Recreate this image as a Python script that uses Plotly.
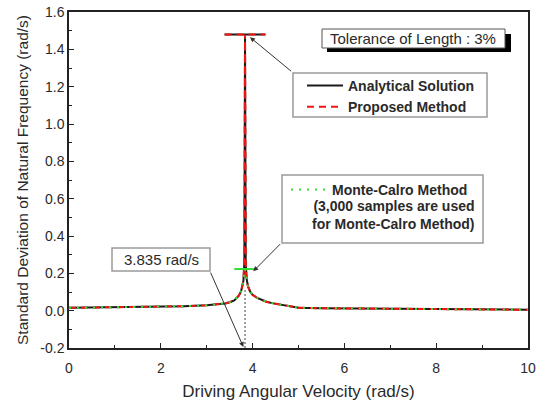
import plotly.graph_objects as go

# ---- data -------------------------------------------------------------
omega = [0, 0.5, 1, 1.5, 2, 2.5, 3, 3.2, 3.4, 3.5, 3.6, 3.7, 3.75, 3.8, 3.82,
         3.835, 3.85, 3.87, 3.9, 3.95, 4.0, 4.1, 4.2, 4.3, 4.45, 4.6, 4.8, 5.0,
         5.5, 6, 6.5, 7, 7.5, 8, 8.5, 9, 9.5, 10]
sigma_analytical = [0.015, 0.016, 0.017, 0.019, 0.021, 0.024, 0.029, 0.033, 0.039,
                    0.045, 0.055, 0.080, 0.105, 0.160, 0.260, 1.48, 0.260, 0.170,
                    0.130, 0.100, 0.085, 0.068, 0.057, 0.048, 0.039, 0.032, 0.022,
                    0.016, 0.013, 0.012, 0.011, 0.010, 0.009, 0.008, 0.007, 0.006,
                    0.006, 0.005]
sigma_proposed = list(sigma_analytical)
sigma_monte_carlo = [0.015, 0.016, 0.017, 0.019, 0.021, 0.024, 0.029, 0.033, 0.039,
                     0.045, 0.055, 0.080, 0.105, 0.160, 0.210, 0.223, 0.210, 0.170,
                     0.130, 0.100, 0.085, 0.068, 0.057, 0.048, 0.039, 0.032, 0.022,
                     0.016, 0.013, 0.012, 0.011, 0.010, 0.009, 0.008, 0.007, 0.006,
                     0.006, 0.005]

# horizontal caps at the resonance peaks
peak_cap_x = [3.39, 4.28]
peak_cap_y = [1.48, 1.48]
mc_cap_x = [3.60, 4.09]
mc_cap_y = [0.223, 0.223]

resonance_x = [3.835, 3.835]
resonance_y = [-0.2, 0.11]

x_ticks = [0, 2, 4, 6, 8, 10]
x_tick_text = ["0", "2", "4", "6", "8", "10"]
y_ticks = [-0.2, 0.0, 0.2, 0.4, 0.6, 0.8, 1.0, 1.2, 1.4, 1.6]
y_tick_text = ["-0.2", "0.0", "0.2", "0.4", "0.6", "0.8", "1.0", "1.2", "1.4", "1.6"]

# ---- layout geometry (pixels) ----------------------------------------
W, H = 541, 401
L, R, T, B = 69, 528, 12, 348


def px(x):
    return (x - L) / (R - L)


def py(y):
    return (B - y) / (B - T)


FONT = "Liberation Sans, Arial, sans-serif"
TXT = "#2a2a2a"
BLACK = "#1a1a1a"
RED = "#f01414"
GREEN = "#33dd33"

fig = go.Figure()

fig.add_trace(go.Scatter(x=resonance_x, y=resonance_y, mode="lines",
                         line=dict(color="#444", width=1, dash="2px,2px"),
                         showlegend=False, hoverinfo="skip"))

fig.add_trace(go.Scatter(x=omega, y=sigma_analytical, mode="lines",
                         name="Analytical Solution", legend="legend",
                         line=dict(color=BLACK, width=2)))
fig.add_trace(go.Scatter(x=peak_cap_x, y=peak_cap_y, mode="lines",
                         line=dict(color=BLACK, width=2), showlegend=False))

fig.add_trace(go.Scatter(x=omega, y=sigma_proposed, mode="lines",
                         name="Proposed Method", legend="legend",
                         line=dict(color=RED, width=2, dash="7px,5px")))
fig.add_trace(go.Scatter(x=peak_cap_x, y=peak_cap_y, mode="lines",
                         line=dict(color=RED, width=2, dash="7px,5px"),
                         showlegend=False))

fig.add_trace(go.Scatter(x=omega, y=sigma_monte_carlo, mode="lines",
                         name="Monte-Calro Method", legend="legend2",
                         line=dict(color=GREEN, width=2, dash="2px,6px")))
fig.add_trace(go.Scatter(x=mc_cap_x, y=mc_cap_y, mode="lines",
                         line=dict(color=GREEN, width=2), showlegend=False))

# ---- boxes -------------------------------------------------------------
shapes = []


def box(x0, y0, x1, y1, line_color="#9a9a9a", width=1.5, fill="white"):
    shapes.append(dict(type="rect", xref="paper", yref="paper",
                       x0=px(x0), x1=px(x1), y0=py(y1), y1=py(y0),
                       line=dict(color=line_color, width=width),
                       fillcolor=fill, layer="above"))


# tolerance label with drop shadow
box(327, 34, 511, 52, line_color="black", width=0, fill="black")
box(322, 29, 505, 48, line_color="#555", width=1)
# legend frames
box(293, 73, 487, 117)
box(282, 175, 483, 243)
# resonance label
box(112, 248, 210, 271)


def label(x, y, text, **kw):
    d = dict(xref="paper", yref="paper", x=px(x), y=py(y), text=text,
             xanchor="center", yanchor="middle", showarrow=False,
             font=dict(family=FONT, size=15, color=TXT))
    d.update(kw)
    return d


annotations = [
    label(413, 38.5, "Tolerance of Length : 3%"),
    label(161, 259.5, "3.835 rad/s"),
    label(477, 214.5, "(3,000 samples are used<br>for Monte-Calro Method)",
          xanchor="right", align="right",
          font=dict(family=FONT, size=14, color=TXT, weight="bold")),
    # arrows
    dict(x=3.943, y=1.465, xref="x", yref="y", ax=42.6, ay=35.2, text="",
         showarrow=True, arrowhead=2, arrowsize=1, arrowwidth=1, arrowcolor="#333"),
    dict(x=4.015, y=0.211, xref="x", yref="y", ax=28.4, ay=-28.7, text="",
         showarrow=True, arrowhead=2, arrowsize=1, arrowwidth=1, arrowcolor="#333"),
    dict(x=3.80, y=-0.195, xref="x", yref="y", ax=-33.5, ay=-76, text="",
         showarrow=True, arrowhead=2, arrowsize=1, arrowwidth=1, arrowcolor="#333"),
]

axis_common = dict(
    showgrid=False, zeroline=False, showline=True, mirror=True, automargin=False,
    linecolor="#222", linewidth=1.5, ticks="inside", tickcolor="#222",
    ticklen=5, tickwidth=1.2,
    tickfont=dict(family=FONT, size=14, color=TXT),
)

fig.update_layout(
    width=W, height=H,
    margin=dict(l=L, r=W - R, t=T, b=H - B, autoexpand=False),
    paper_bgcolor="white", plot_bgcolor="white",
    font=dict(family=FONT, color=TXT),
    xaxis=dict(range=[0, 10], tickvals=x_ticks, ticktext=x_tick_text,
               ticklabelstandoff=6,
               minor=dict(dtick=1, ticks="inside", ticklen=3, tickcolor="#222"),
               title=dict(text="Driving Angular Velocity (rad/s)",
                          font=dict(family=FONT, size=17, color=TXT), standoff=14),
               **axis_common),
    yaxis=dict(range=[-0.2, 1.6], tickvals=y_ticks, ticktext=y_tick_text,
               minor=dict(dtick=0.1, tick0=0, ticks="inside", ticklen=3, tickcolor="#222"),
               title=dict(text="Standard Deviation of Natural Frequency (rad/s)",
                          font=dict(family=FONT, size=15.5, color=TXT), standoff=8),
               **axis_common),
    legend=dict(x=px(302), y=py(70), xanchor="left", yanchor="top",
                bgcolor="rgba(0,0,0,0)", borderwidth=0, itemwidth=36,
                tracegroupgap=0,
                font=dict(family=FONT, size=14, color=TXT, weight="bold")),
    legend2=dict(x=px(286), y=py(174), xanchor="left", yanchor="top",
                 bgcolor="rgba(0,0,0,0)", borderwidth=0, itemwidth=36,
                 font=dict(family=FONT, size=14, color=TXT, weight="bold")),
    shapes=shapes,
    annotations=annotations,
    showlegend=True,
)

fig.write_html("out.html")
